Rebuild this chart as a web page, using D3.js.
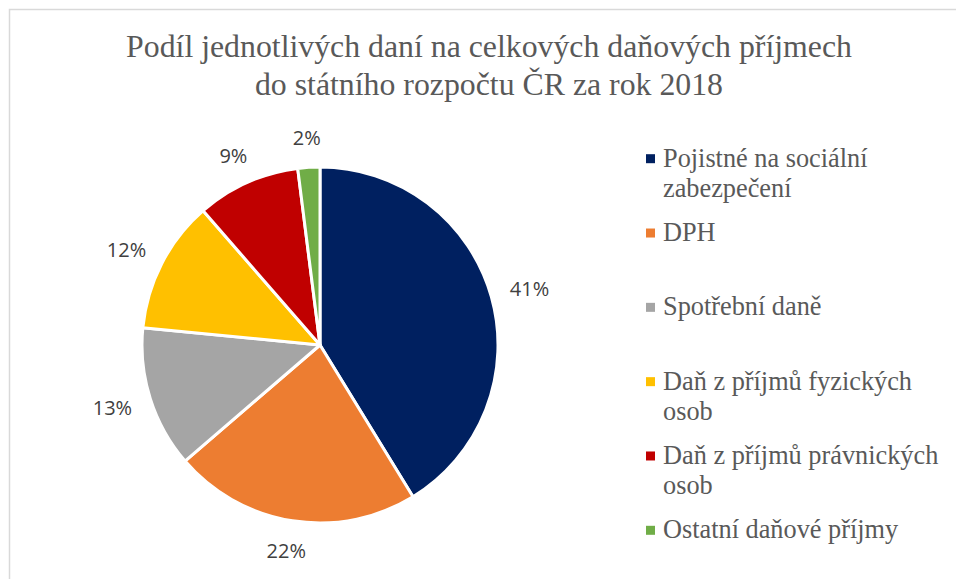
<!DOCTYPE html>
<html>
<head>
<meta charset="utf-8">
<script src="https://cdn.jsdelivr.net/npm/d3@7"></script>
<style>
  html, body { margin: 0; padding: 0; background: #fff; }
  svg { display: block; }
</style>
</head>
<body>
<svg id="chart" width="956" height="579"></svg>
<script>
// ---- data ----
const titleLines = ["Podíl jednotlivých daní na celkových daňových příjmech", "do státního rozpočtu ČR za rok 2018"];
const categories = ["Pojistné na sociální zabezpečení", "DPH", "Spotřební daně", "Daň z příjmů fyzických osob", "Daň z příjmů právnických osob", "Ostatní daňové příjmy"];
const shares = [41.25, 22.45, 12.85, 12.05, 9.4, 2.0];
const colors = ["#002060", "#ED7D31", "#A5A5A5", "#FFC000", "#C00000", "#70AD47"];

// ---- layout ----
const svg = d3.select("#chart");
const W = 956, H = 579;
const cx = 320, cy = 345, R = 178;

svg.append("rect").attr("x", 9.5).attr("y", 9.5).attr("width", W + 20).attr("height", H + 20)
  .attr("fill", "#fff").attr("stroke", "#d9d9d9").attr("stroke-width", 1.5);

// title
const title = svg.append("g");
title.selectAll("text").data(titleLines).join("text")
  .attr("x", 489).attr("y", (d, i) => 57 + i * 38.3)
  .attr("text-anchor", "middle")
  .attr("font-family", "'Liberation Serif', 'Times New Roman', serif")
  .attr("font-size", 31.8).attr("fill", "#595959")
  .text(d => d);

// pie
const pie = d3.pie().sort(null).value(d => d);
const arcs = pie(shares);
const arc = d3.arc().innerRadius(0).outerRadius(R);
const g = svg.append("g").attr("transform", `translate(${cx},${cy})`);
g.selectAll("path").data(arcs).join("path")
  .attr("d", arc)
  .attr("fill", (d, i) => colors[i])
  .attr("stroke", "#fff").attr("stroke-width", 3).attr("stroke-linejoin", "round");

// data labels (outside end)
const total = d3.sum(shares);
const fmt = v => Math.round(v / total * 100) + "%";
const gap = 20;
const lbl = g.selectAll("text.lbl").data(arcs).join("text")
  .attr("class", "lbl")
  .attr("font-family", "'Open Sans', 'Noto Sans', sans-serif")
  .attr("font-size", 20).attr("fill", "#404040")
  .attr("text-anchor", "middle").attr("dominant-baseline", "central")
  .text(d => fmt(d.data));
lbl.each(function(d) {
  const a = (d.startAngle + d.endAngle) / 2;
  const w = this.getComputedTextLength(), h = 20;
  const x = Math.sin(a) * (R + gap) + Math.sin(a) * w / 2;
  const y = -Math.cos(a) * (R + gap) - Math.cos(a) * h / 2;
  d3.select(this).attr("x", x).attr("y", y);
});

// legend
const legY = d3.scalePoint().domain(d3.range(categories.length)).range([166.7, 538.3]);
const legX = 646, textX = 663, wrapW = 290, lineH = 30;
const leg = svg.append("g");
categories.forEach((name, i) => {
  const y0 = legY(i);
  leg.append("rect").attr("x", legX).attr("y", y0 - 12.5).attr("width", 9).attr("height", 9).attr("fill", colors[i]);
  const t = leg.append("text")
    .attr("font-family", "'Liberation Serif', 'Times New Roman', serif")
    .attr("font-size", 26.3).attr("fill", "#595959");
  const words = name.split(" ");
  let line = [], lineNo = 0;
  let ts = t.append("tspan").attr("x", textX).attr("y", y0);
  words.forEach(wd => {
    line.push(wd);
    ts.text(line.join(" "));
    if (ts.node().getComputedTextLength() > wrapW && line.length > 1) {
      line.pop();
      ts.text(line.join(" "));
      line = [wd];
      lineNo++;
      ts = t.append("tspan").attr("x", textX).attr("y", y0 + lineNo * lineH).text(wd);
    }
  });
});
</script>
</body>
</html>
